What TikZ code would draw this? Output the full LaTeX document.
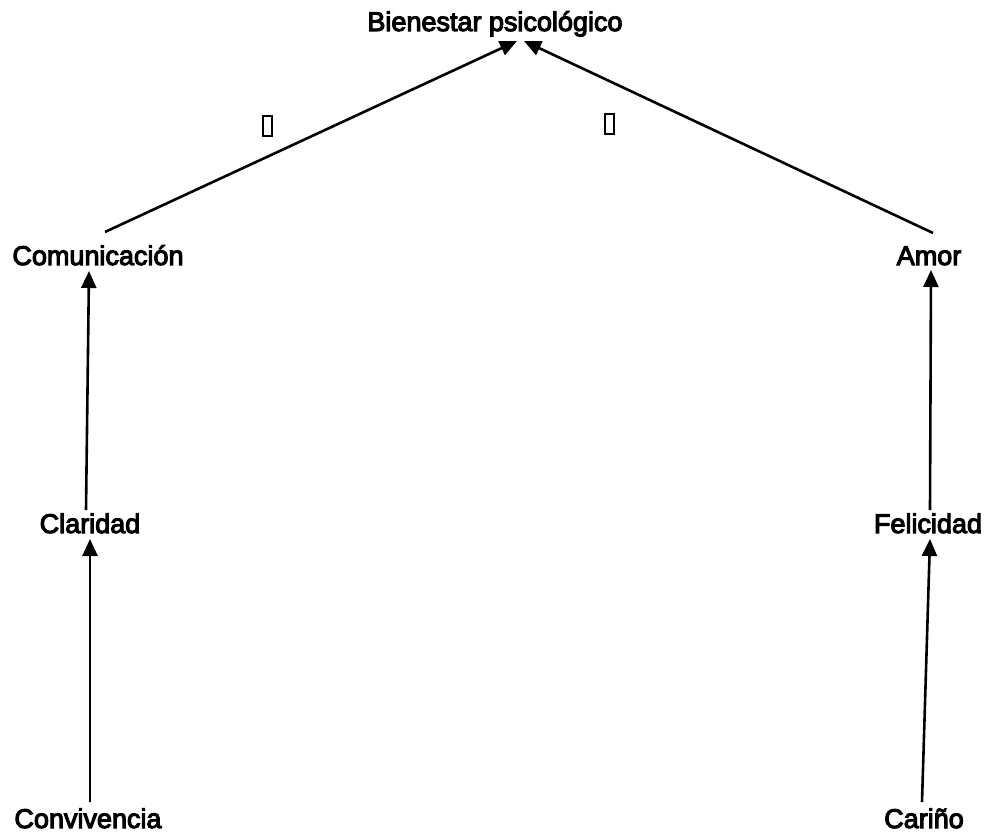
\documentclass[tikz,border=0pt]{standalone}
\usepackage{fontspec}
\newfontfamily\conceptfont{Liberation Sans}[FakeBold=4]
\usetikzlibrary{arrows.meta}
\begin{document}
\begin{tikzpicture}[x=1pt,y=-1pt,
  concept/.style={inner sep=0pt,anchor=base,font=\conceptfont\fontsize{27}{30}\selectfont},
  link/.style={line width=2.6pt,-{Triangle[length=17pt,width=15pt]}},
  mark box/.style={draw,line width=2pt,minimum width=9pt,minimum height=20pt,inner sep=0pt}]
\useasboundingbox (0,0) rectangle (997,837);
\fill[white] (0,0) rectangle (997,837);

% concepts
\node[concept] (bien) at (495,31) {Bienestar psicológico};
\node[concept] (com) at (98,265) {Comunicación};
\node[concept] (amor) at (929,265) {Amor};
\node[concept] (clar) at (90,533) {Claridad};
\node[concept] (feli) at (928,533) {Felicidad};
\node[concept] (conv) at (88,828) {Convivencia};
\node[concept] (cari) at (924,828) {Cariño};

% weight marks on the two upper links
\node[mark box] (wl) at (267,126) {};
\node[mark box] (wr) at (609,124) {};

% links (offsets measured from each label's baseline)
\draw[link] ([xshift=7pt,yshift=33pt]com.base) -- ([xshift=22pt,yshift=-10pt]bien.base);
\draw[link] ([xshift=4pt,yshift=32pt]amor.base) -- ([xshift=29pt,yshift=-10pt]bien.base);
\draw[link] ([xshift=-4pt,yshift=23pt]clar.base) -- ([xshift=-9pt,yshift=-6pt]com.base);
\draw[link] ([xshift=2pt,yshift=23pt]feli.base) -- ([xshift=2pt,yshift=-5pt]amor.base);
\draw[link] ([xshift=2pt,yshift=26pt]conv.base) -- ([xshift=0pt,yshift=-6pt]clar.base);
\draw[link] ([xshift=-2pt,yshift=26pt]cari.base) -- ([xshift=2pt,yshift=-6pt]feli.base);
\end{tikzpicture}
\end{document}
